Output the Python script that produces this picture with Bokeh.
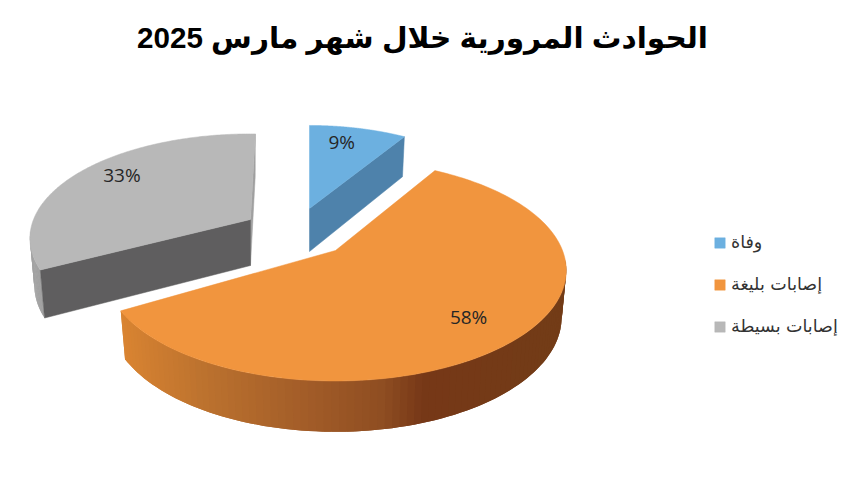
import numpy as np
from bokeh.plotting import figure
from bokeh.models import Range1d, Legend, LegendItem
from bokeh.core.properties import value
from bokeh.embed import file_html
from bokeh.resources import INLINE

TITLE = "الحوادث المرورية خلال شهر مارس 2025"
categories = ["وفاة", "إصابات بليغة", "إصابات بسيطة"]
values = [9, 58, 33]
labels = ["9%", "58%", "33%"]

top_colors = ["#6cb0e0", "#f1953e", "#b8b8b8"]
cut_colors = ["#4e82ab", "#e08a35", "#5f5e5f"]
end_colors = ["#5d93bf", "#e08a35", "#a0a0a0"]

# projection of each exploded slice: apex, half axes, rotation, wall depth
apex_x = [309, 335, 250]
apex_y = [208, 250, 219]
axis_a = [204, 227, 217]
axis_b = [98, 107, 101]
rotate = [0.0, -2.0, 1.5]
depth = [43, 46, 46]
persp = 0.18
label_dt = [-3.2, 2.0, 4.4]
label_r = [0.8, 0.77, 0.8]

# gradient of the rim of the large slice, by horizontal position
rim_x = [122, 200, 300, 383, 423, 540, 565]
rim_c = [(0xd9, 0x84, 0x32), (0xbd, 0x73, 0x2f), (0xa4, 0x5e, 0x29), (0x8f, 0x4e, 0x22),
         (0x77, 0x38, 0x18), (0x73, 0x3c, 0x17), (0x73, 0x3c, 0x17)]

W, H = 842, 489
p = figure(width=W, height=H, output_backend="svg", toolbar_location=None,
           x_range=Range1d(0, W), y_range=Range1d(H, 0), min_border=0)
p.axis.visible = False
p.grid.visible = False
p.outline_line_color = None
p.background_fill_color = "white"


def project(i, deg, r=1.0):
    t = np.radians(np.asarray(deg, dtype=float) + rotate[i])
    X, Y = r * np.sin(t), r * np.cos(t)
    w = 1 + persp * Y
    return apex_x[i] + axis_a[i] * X / w, apex_y[i] - axis_b[i] * Y / w, w


def lower(i, x, y, w):
    return apex_x[i] + (x - apex_x[i]) * 0.98, y + depth[i] / np.sqrt(w)


def quad(i, deg, color):
    x, y, w = project(i, [deg])
    xb, yb = lower(i, x, y, w)
    p.patch([apex_x[i], x[0], xb[0], apex_x[i]],
            [apex_y[i], y[0], yb[0], apex_y[i] + depth[i]],
            fill_color=color, line_color=color, line_width=0.5)


def rim(i, a0, a1, color=None, n=90):
    ang = np.linspace(a0, a1, n)
    x, y, w = project(i, ang)
    xb, yb = lower(i, x, y, w)
    for k in range(n - 1):
        e = min(k + 3, n)
        xm = (x[k] + x[k + 1]) / 2
        if color is None:
            rgb = [int(np.interp(xm, rim_x, [c[j] for c in rim_c])) for j in range(3)]
            col = "#%02x%02x%02x" % tuple(rgb)
        else:
            col = color
        p.patch(np.r_[x[k:e], xb[k:e][::-1]], np.r_[y[k:e], yb[k:e][::-1]],
                fill_color=col, line_color=None)


def surface(i, a0, a1):
    ang = np.linspace(a0, a1, 160)
    x, y, _ = project(i, ang)
    return p.patch(np.r_[apex_x[i], x], np.r_[apex_y[i], y],
                   fill_color=top_colors[i], line_color=top_colors[i], line_width=0.5)


shares = np.array(values, dtype=float) / sum(values) * 360
starts = np.r_[0, np.cumsum(shares)[:-1]]
ends = starts + shares
BLUE, ORANGE, GRAY = 0, 1, 2

# grey slice
rim(GRAY, starts[GRAY], starts[GRAY] + 21, color="#a2a2a2", n=30)
quad(GRAY, ends[GRAY], end_colors[GRAY])
quad(GRAY, starts[GRAY], cut_colors[GRAY])
r_gray = surface(GRAY, starts[GRAY], ends[GRAY])

# blue slice
quad(BLUE, ends[BLUE], cut_colors[BLUE])
r_blue = surface(BLUE, starts[BLUE], ends[BLUE])

# orange slice
rim(ORANGE, 97, ends[ORANGE])
r_orange = surface(ORANGE, starts[ORANGE], ends[ORANGE])

# data labels
for i in range(3):
    mid = (starts[i] + ends[i]) / 2 + label_dt[i]
    lx, ly, _ = project(i, [mid], label_r[i])
    p.text([lx[0]], [ly[0]], text=[labels[i]], text_font=value("Open Sans"),
           text_font_size="19px", text_color="#262626",
           text_align="center", text_baseline="middle")

# title
p.text([422], [37], text=[TITLE], text_font=value("Liberation Sans, DejaVu Sans"),
       text_font_size="29.6px", text_font_style="bold", text_color="#000000",
       text_align="center", text_baseline="middle")

legend = Legend(items=[LegendItem(label=categories[0], renderers=[r_blue]),
                       LegendItem(label=categories[1], renderers=[r_orange]),
                       LegendItem(label=categories[2], renderers=[r_gray])],
                location=(713, 153), orientation="vertical",
                background_fill_alpha=0, border_line_color=None,
                glyph_width=13, glyph_height=13, label_standoff=5, spacing=22,
                padding=0, margin=0, label_text_font="DejaVu Sans",
                label_text_font_size="17.5px", label_text_color="#333333")
p.add_layout(legend, "center")

open("out.html", "w").write(file_html(p, INLINE))
